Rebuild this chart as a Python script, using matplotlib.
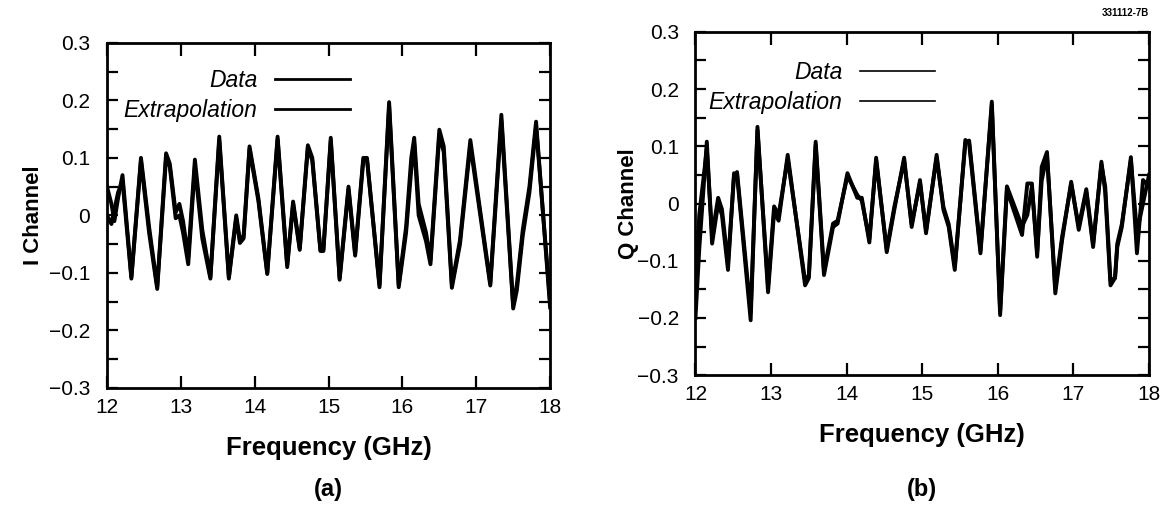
import matplotlib
matplotlib.use('Agg')
import matplotlib.pyplot as plt
from matplotlib.ticker import MultipleLocator

# I channel, panel (a)
i_freq = [12.00, 12.06, 12.10, 12.15, 12.21, 12.33, 12.46, 12.57, 12.68, 12.80,
          12.85, 12.93, 12.98, 13.03, 13.10, 13.19, 13.29, 13.40, 13.52, 13.65,
          13.75, 13.80, 13.85, 13.93, 14.05, 14.17, 14.31, 14.44, 14.52, 14.61,
          14.72, 14.78, 14.89, 14.93, 15.03, 15.15, 15.27, 15.36, 15.47, 15.52,
          15.69, 15.82, 15.95, 16.05, 16.12, 16.16, 16.22, 16.32, 16.38, 16.50,
          16.56, 16.67, 16.78, 16.92, 17.19, 17.34, 17.50, 17.55, 17.63, 17.72,
          17.81, 18.00]
i_data = [0.050, 0.020, -0.010, 0.030, 0.070, -0.107, 0.100, -0.020, -0.124, 0.108,
          0.090, 0.005, 0.020, -0.010, -0.072, 0.097, -0.025, -0.107, 0.137, -0.107,
          0.000, -0.043, -0.035, 0.120, 0.030, -0.100, 0.137, -0.086, 0.024, -0.057,
          0.122, 0.100, -0.060, -0.060, 0.135, -0.109, 0.050, -0.066, 0.100, 0.100,
          -0.121, 0.197, -0.121, -0.020, 0.100, 0.135, 0.020, -0.030, -0.078, 0.149,
          0.120, -0.121, -0.043, 0.131, -0.118, 0.175, -0.156, -0.120, -0.025, 0.050,
          0.163, -0.160]
i_extrap = [0.000, -0.015, 0.010, 0.040, 0.060, -0.110, 0.095, -0.030, -0.128, 0.100,
            0.085, -0.005, 0.000, -0.030, -0.085, 0.085, -0.040, -0.110, 0.130, -0.110,
            -0.005, -0.048, -0.040, 0.115, 0.025, -0.102, 0.132, -0.090, 0.020, -0.060,
            0.118, 0.095, -0.062, -0.062, 0.130, -0.112, 0.045, -0.070, 0.095, 0.098,
            -0.125, 0.190, -0.125, -0.030, 0.080, 0.125, 0.000, -0.045, -0.085, 0.140,
            0.110, -0.126, -0.050, 0.122, -0.122, 0.165, -0.162, -0.130, -0.035, 0.040,
            0.155, -0.150]

# Q channel, panel (b)
q_freq = [12.00, 12.05, 12.15, 12.22, 12.30, 12.35, 12.43, 12.51, 12.55, 12.73,
          12.82, 12.96, 13.04, 13.10, 13.22, 13.45, 13.50, 13.59, 13.70, 13.82,
          13.88, 14.01, 14.14, 14.20, 14.30, 14.39, 14.53, 14.63, 14.76, 14.86,
          14.97, 15.05, 15.19, 15.28, 15.35, 15.43, 15.57, 15.62, 15.77, 15.92,
          16.03, 16.12, 16.32, 16.39, 16.45, 16.52, 16.58, 16.65, 16.76, 16.85,
          16.97, 17.07, 17.17, 17.26, 17.37, 17.42, 17.49, 17.55, 17.58, 17.64,
          17.76, 17.84, 17.92, 18.00]
q_data = [-0.200, -0.080, 0.108, -0.070, 0.000, -0.020, -0.116, 0.053, 0.050, -0.204,
          0.134, -0.155, -0.015, -0.030, 0.085, -0.143, -0.130, 0.102, -0.125, -0.041,
          -0.035, 0.053, 0.010, 0.010, -0.068, 0.080, -0.085, -0.011, 0.080, -0.041,
          0.041, -0.052, 0.085, -0.011, -0.041, -0.116, 0.111, 0.105, -0.087, 0.178,
          -0.195, 0.024, -0.055, 0.035, 0.035, -0.093, 0.064, 0.090, -0.157, -0.064,
          0.038, -0.046, 0.020, -0.076, 0.073, 0.020, -0.143, -0.130, -0.076, -0.041,
          0.081, -0.087, 0.041, 0.030]
q_extrap = [-0.150, -0.020, 0.095, -0.055, 0.010, -0.010, -0.105, 0.048, 0.055, -0.190,
            0.128, -0.145, -0.005, -0.020, 0.078, -0.135, -0.125, 0.108, -0.118, -0.035,
            -0.030, 0.048, 0.015, 0.005, -0.062, 0.075, -0.080, -0.006, 0.075, -0.036,
            0.036, -0.047, 0.080, -0.006, -0.036, -0.110, 0.106, 0.110, -0.082, 0.172,
            -0.188, 0.030, -0.040, -0.020, 0.030, -0.085, 0.040, 0.085, -0.148, -0.058,
            0.034, -0.040, 0.025, -0.070, 0.068, 0.030, -0.135, -0.130, -0.070, -0.036,
            0.076, -0.050, 0.000, 0.050]

y_ticks = [-0.3, -0.2, -0.1, 0, 0.1, 0.2, 0.3]
y_ticklabels = ['\u22120.3', '\u22120.2', '\u22120.1', '0', '0.1', '0.2', '0.3']

FONT = 'Liberation Sans'
plt.rcParams['font.family'] = [FONT, 'DejaVu Sans']


def style_axes(ax):
  ax.set_xlim(12, 18)
  ax.set_ylim(-0.3, 0.3)
  ax.xaxis.set_major_locator(MultipleLocator(1))
  ax.yaxis.set_minor_locator(MultipleLocator(0.05))
  ax.set_yticks(y_ticks)
  ax.set_yticklabels(y_ticklabels)
  ax.tick_params(which='both', direction='in', top=True, right=True,
                 width=1.6, labelsize=15)
  ax.tick_params(axis='x', which='major', length=9, pad=7)
  ax.tick_params(axis='y', which='both', length=8, pad=12)
  for sp in ax.spines.values():
    sp.set_linewidth(2.0)
  ax.set_xlabel('Frequency (GHz)', fontsize=18.5, fontweight='bold', labelpad=14)


fig = plt.figure(figsize=(11.63, 5.05), dpi=100)
ax_i = fig.add_axes([0.092, 0.232, 0.381, 0.683])
ax_q = fig.add_axes([0.598, 0.257, 0.390, 0.680])

ax_i.plot(i_freq, i_data, color='black', lw=2.8, label='Data')
ax_i.plot(i_freq, i_extrap, color='black', lw=2.8, label='Extrapolation')
ax_q.plot(q_freq, q_data, color='black', lw=2.8, label='Data')
ax_q.plot(q_freq, q_extrap, color='black', lw=2.8, label='Extrapolation')

style_axes(ax_i)
style_axes(ax_q)
ax_i.set_ylabel('I Channel', fontsize=16, fontweight='bold')
ax_q.set_ylabel('Q Channel', fontsize=16, fontweight='bold')
ax_i.yaxis.set_label_coords(-0.142, 0.5)
ax_q.yaxis.set_label_coords(-0.124, 0.5)

for ax, anchor, lw in [(ax_i, (0.549, 0.925), 2.0), (ax_q, (0.529, 0.915), 1.2)]:
  leg = ax.legend(loc='upper right', bbox_to_anchor=anchor, frameon=False,
                  markerfirst=False, handlelength=3.3, handletextpad=0.75,
                  labelspacing=0.3, borderpad=0, borderaxespad=0,
                  prop={'family': FONT, 'style': 'italic', 'size': 16.5})
  for h in leg.get_lines():
    h.set_linewidth(lw)

fig.text(0.282, 0.03, '(a)', ha='center', va='center', fontsize=17, fontweight='bold')
fig.text(0.793, 0.03, '(b)', ha='center', va='center', fontsize=17, fontweight='bold')
fig.text(0.988, 0.965, '331112-7B', ha='right', va='bottom', fontsize=7,
         fontweight='bold')

fig.savefig('out.png', dpi=100)
